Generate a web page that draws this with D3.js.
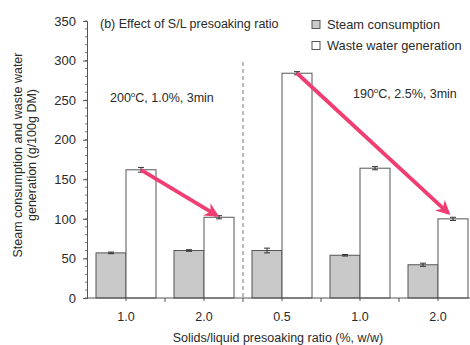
<!DOCTYPE html>
<html>
<head>
<meta charset="utf-8">
<script src="https://cdn.jsdelivr.net/npm/d3@7"></script>
<style>
  body { margin: 0; background: #fff; }
  text { font-family: "Liberation Sans", Arial, sans-serif; fill: #2a2a2a; }
</style>
</head>
<body>
<script>
// data
let groups = ["g1", "g2", "g3", "g4", "g5"]
let tickLabels = ["1.0", "2.0", "0.5", "1.0", "2.0"]
let steam = [57, 60, 60, 54, 42]
let steamErr = [1, 1, 3, 1, 2]
let waste = [162, 102, 284, 164, 100]
let wasteErr = [3, 2, 2, 2, 2]
let yTicks = [0, 50, 100, 150, 200, 250, 300, 350]
let minorTicks = d3.range(0, 351, 10)

let W = 470, H = 345
let svg = d3.select('body')
    .append('svg')
    .attr('width', W)
    .attr('height', H)

let x = d3.scaleBand()
    .domain(groups)
    .range([87, 477])
    .paddingInner(18 / 78)
    .paddingOuter(9 / 78)
let y = d3.scaleLinear()
    .domain([0, 350])
    .range([298, 21])

let bw = x.bandwidth() / 2
let stroke = '#555'

// y axis with major ticks and minor ticks
let yAxis = svg.append('g')
    .attr('transform', 'translate(87,0)')
    .call(d3.axisLeft(y).tickValues(yTicks).tickSize(4).tickPadding(7))
yAxis.select('.domain').attr('stroke', stroke)
yAxis.selectAll('.tick line').attr('stroke', stroke)
yAxis.selectAll('.tick text')
    .style('font-size', '13px')
    .style('font-family', '"Liberation Sans", Arial, sans-serif')
    .attr('fill', '#2a2a2a')
svg.append('g').selectAll('line')
    .data(minorTicks)
    .join('line')
    .attr('x1', 85)
    .attr('x2', 87)
    .attr('y1', d => y(d))
    .attr('y2', d => y(d))
    .attr('stroke', stroke)
    .attr('stroke-width', 0.8)

// dashed divider between the two conditions
let divX = (x('g2') + x.bandwidth() + x('g3')) / 2
svg.append('line')
    .attr('x1', divX)
    .attr('x2', divX)
    .attr('y1', 62)
    .attr('y2', y(0))
    .attr('stroke', '#777')
    .attr('stroke-width', 1)
    .attr('stroke-dasharray', '4,3')

// bars
svg.append('g').selectAll('rect')
    .data(groups)
    .join('rect')
    .attr('x', d => x(d))
    .attr('y', (d, i) => y(steam[i]))
    .attr('width', bw)
    .attr('height', (d, i) => y(0) - y(steam[i]))
    .attr('fill', '#c9c9c9')
    .attr('stroke', stroke)
    .attr('stroke-width', 1)
svg.append('g').selectAll('rect')
    .data(groups)
    .join('rect')
    .attr('x', d => x(d) + bw)
    .attr('y', (d, i) => y(waste[i]))
    .attr('width', bw)
    .attr('height', (d, i) => y(0) - y(waste[i]))
    .attr('fill', '#fff')
    .attr('stroke', stroke)
    .attr('stroke-width', 1)

// error bars
function errBars(vals, errs, off) {
  let g = svg.append('g').attr('stroke', '#333').attr('stroke-width', 1)
  groups.forEach((d, i) => {
    let cx = x(d) + off + bw / 2
    g.append('line').attr('x1', cx).attr('x2', cx)
        .attr('y1', y(vals[i] - errs[i])).attr('y2', y(vals[i] + errs[i]))
    ;[vals[i] - errs[i], vals[i] + errs[i]].forEach(v => {
      g.append('line').attr('x1', cx - 3).attr('x2', cx + 3)
          .attr('y1', y(v)).attr('y2', y(v))
    })
  })
}
errBars(steam, steamErr, 0)
errBars(waste, wasteErr, bw)

// x axis
svg.append('line')
    .attr('x1', 87).attr('x2', W)
    .attr('y1', y(0)).attr('y2', y(0))
    .attr('stroke', stroke)
svg.append('g').selectAll('line')
    .data(groups)
    .join('line')
    .attr('x1', d => x(d) + bw)
    .attr('x2', d => x(d) + bw)
    .attr('y1', y(0))
    .attr('y2', y(0) + 3)
    .attr('stroke', stroke)
svg.append('g').selectAll('line')
    .data(groups.slice(1))
    .join('line')
    .attr('x1', d => x(d) - x.step() * x.paddingInner() / 2)
    .attr('x2', d => x(d) - x.step() * x.paddingInner() / 2)
    .attr('y1', y(0))
    .attr('y2', y(0) + 4)
    .attr('stroke', stroke)
svg.append('g').selectAll('text')
    .data(groups)
    .join('text')
    .attr('x', d => x(d) + bw)
    .attr('y', 321)
    .attr('text-anchor', 'middle')
    .style('font-size', '12.5px')
    .text((d, i) => tickLabels[i])

// arrows
let defs = svg.append('defs')
defs.append('marker')
    .attr('id', 'head')
    .attr('viewBox', '0 0 10 10')
    .attr('refX', 8)
    .attr('refY', 5)
    .attr('markerWidth', 4)
    .attr('markerHeight', 3.8)
    .attr('orient', 'auto')
    .append('path')
    .attr('d', 'M0,0 L10,5 L0,10 L3,5 Z')
    .attr('fill', '#f03e72')
let arrows = [[0, 1], [2, 4]]
arrows.forEach(([a, b]) => {
  let x1 = x(groups[a]) + bw * 1.5, y1 = y(waste[a])
  let x2 = x(groups[b]) + bw * 1.5, y2 = y(waste[b])
  svg.append('line')
      .attr('x1', x1).attr('y1', y1)
      .attr('x2', x2 - (x2 - x1) * 0.03).attr('y2', y2 - (y2 - y1) * 0.04)
      .attr('stroke', '#f03e72')
      .attr('stroke-width', 3.8)
      .attr('marker-end', 'url(#head)')
})

// title and annotations
svg.append('text')
    .attr('x', 100).attr('y', 28)
    .style('font-size', '12.5px')
    .text('(b) Effect of S/L presoaking ratio')
function condition(tx, ty, t, rest) {
  let t1 = svg.append('text').attr('x', tx).attr('y', ty).style('font-size', '12.5px')
  t1.append('tspan').text(t)
  t1.append('tspan').attr('dy', -5).style('font-size', '8px').text('o')
  t1.append('tspan').attr('dy', 5).text(rest)
}
condition(110, 102, '200', 'C, 1.0%, 3min')
condition(353, 98, '190', 'C, 2.5%, 3min')

// legend
let legend = [['Steam consumption', '#c9c9c9', 25], ['Waste water generation', '#fff', 46]]
legend.forEach(([label, fill, ly]) => {
  svg.append('rect')
      .attr('x', 312).attr('y', ly - 4.5)
      .attr('width', 8).attr('height', 8)
      .attr('fill', fill)
      .attr('stroke', stroke)
  svg.append('text')
      .attr('x', 327).attr('y', ly + 4)
      .style('font-size', '12.8px')
      .text(label)
})

// axis titles
svg.append('text')
    .attr('transform', 'translate(22,155) rotate(-90)')
    .attr('text-anchor', 'middle')
    .style('font-size', '12.5px')
    .text('Steam consumption and waste water')
svg.append('text')
    .attr('transform', 'translate(36,155) rotate(-90)')
    .attr('text-anchor', 'middle')
    .style('font-size', '12.5px')
    .text('generation (g/100g DM)')
svg.append('text')
    .attr('x', 278).attr('y', 342)
    .attr('text-anchor', 'middle')
    .style('font-size', '12.5px')
    .text('Solids/liquid presoaking ratio (%, w/w)')
</script>
</body>
</html>
